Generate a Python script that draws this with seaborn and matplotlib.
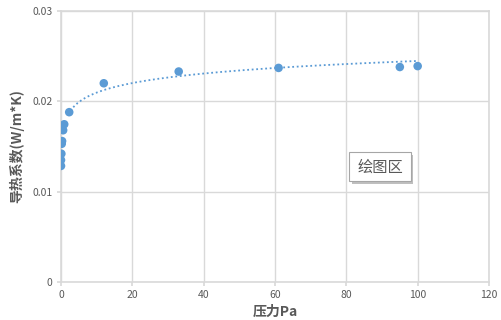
import numpy as np
import pandas as pd
import matplotlib
matplotlib.use("Agg")
import matplotlib.pyplot as plt
import seaborn as sns
from matplotlib.patches import FancyBboxPatch

pressure = [0.0, 0.0, 0.1, 0.2, 0.3, 0.6, 0.9, 2.3, 12, 33, 61, 95, 100]
conductivity = [0.01285, 0.0135, 0.0142, 0.0153, 0.0156, 0.0168, 0.01746, 0.0188,
                0.0220, 0.0233, 0.0237, 0.0238, 0.0239]
xticks = [0, 20, 40, 60, 80, 100, 120]
yticks = [0, 0.01, 0.02, 0.03]
ytick_labels = ["0", "0.01", "0.02", "0.03"]
# logarithmic trendline coefficients: y = a*ln(x) + b
trend_a = 0.00152
trend_b = 0.01747
trend_range = (2.0, 100.0)

sns.set_theme(style="white")
plt.rcParams['font.family'] = ['Noto Sans CJK SC', 'DejaVu Sans']

fig = plt.figure(figsize=(5.02, 3.2), dpi=100)
ax = fig.add_axes([61/502, 1-282/320, (489-61)/502, (282-11)/320])

df = pd.DataFrame({"p": pressure, "k": conductivity})
tx = np.linspace(trend_range[0], trend_range[1], 300)
trend = pd.DataFrame({"p": tx, "k": trend_a*np.log(tx) + trend_b})
sns.lineplot(data=trend, x="p", y="k", ax=ax, color="#5B9BD5", linestyle=(0, (1, 1.5)),
             linewidth=1.3, zorder=2)
sns.scatterplot(data=df, x="p", y="k", ax=ax, color="#5B9BD5", s=38, edgecolor="none",
                zorder=3)

ax.set_xlim(0, 120)
ax.set_ylim(0, 0.03)
ax.set_xticks(xticks)
ax.set_yticks(yticks)
ax.set_yticklabels(ytick_labels)
ax.grid(True, color="#d9d9d9", linewidth=1)
for s in ax.spines.values():
    s.set_color("#d9d9d9")
    s.set_linewidth(1.2)
ax.tick_params(axis="both", labelsize=7.5, colors="#595959", length=3, color="#d9d9d9",
               pad=3)
ax.tick_params(axis="y", left=True)
ax.tick_params(axis="x", bottom=True)
ax.set_xlabel("压力Pa", fontsize=10, color="#595959", fontweight="semibold", labelpad=3)
ax.set_ylabel("导热系数(W/m*K)", fontsize=10, color="#595959", fontweight="semibold",
              labelpad=6)

# "绘图区" tooltip box
shadow = FancyBboxPatch((352/502, 1-184/320), 61/502, 29/320, boxstyle="square,pad=0",
                        transform=fig.transFigure, facecolor="#bfbfbf", edgecolor="none",
                        zorder=5)
box = FancyBboxPatch((349/502, 1-181/320), 62/502, 29/320, boxstyle="square,pad=0",
                     transform=fig.transFigure, facecolor="white", edgecolor="#a6a6a6",
                     linewidth=0.8, zorder=6)
fig.add_artist(shadow)
fig.add_artist(box)
fig.text(380/502, 1-167/320, "绘图区", fontsize=11, color="#595959", ha="center",
         va="center", zorder=7)

fig.savefig("out.png", dpi=100)
